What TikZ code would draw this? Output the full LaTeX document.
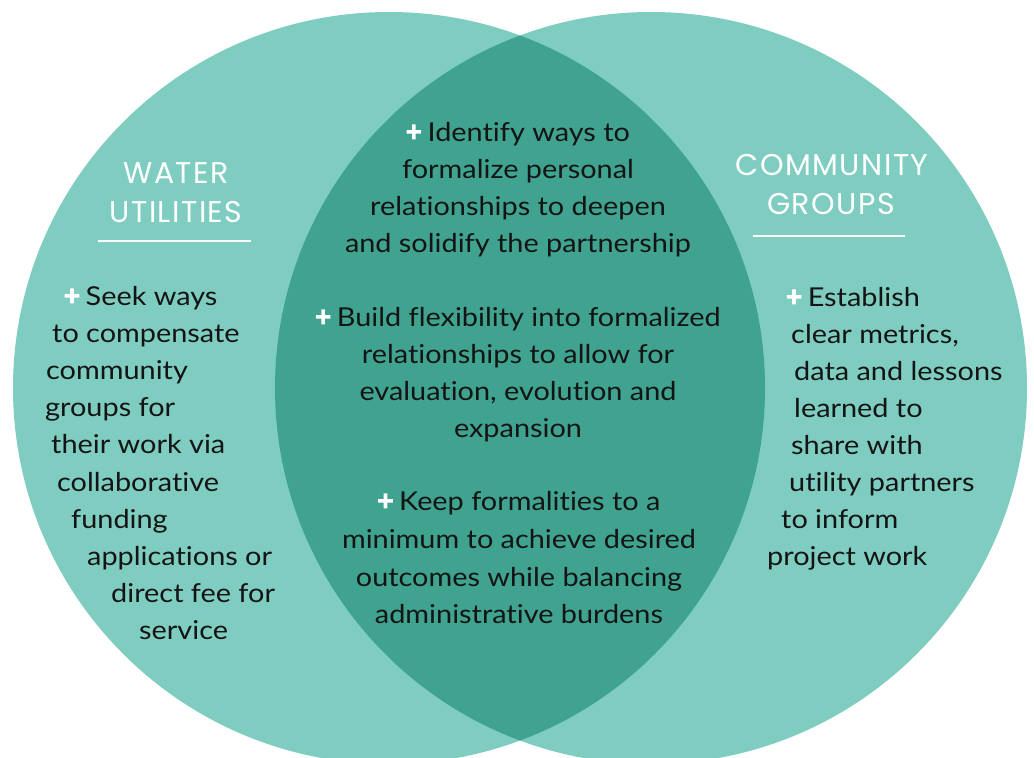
\documentclass[tikz,border=0pt]{standalone}
\usepackage{fontspec}
\setmainfont{Lato}[FakeStretch=1.11, Ligatures={NoCommon, NoRare}]
\newfontface\plusfont{Lato}[FakeBold=6]
\newfontfamily\headfont[LetterSpace=5]{Poppins}
\definecolor{lightteal}{HTML}{7FCDC1}
\definecolor{darkteal}{HTML}{3FA390}
\definecolor{ink}{HTML}{141414}
\newcommand{\plusmark}{{\plusfont\fontsize{27}{30}\selectfont\color{white}+}\hspace{-1.5pt}}
\begin{document}
\begin{tikzpicture}[x=1pt,y=-1pt,
  body/.style={anchor=base west, inner sep=0pt, font=\fontsize{26}{30}\selectfont, text=ink},
  mid/.style={anchor=base, inner sep=0pt, font=\fontsize{26}{30}\selectfont, text=ink},
  head/.style={anchor=base, inner sep=0pt, font=\headfont\fontsize{30}{36}\selectfont, text=white},
  rule/.style={draw=white, line width=1.6pt}]
\useasboundingbox (0,0) rectangle (1034,758);
\begin{scope}
  \clip (0,0) rectangle (1034,758);
  \fill[lightteal] (389,388) circle[radius=376];
  \fill[lightteal] (651,388) circle[radius=376];
  \begin{scope}
    \clip (389,388) circle[radius=376];
    \fill[darkteal] (651,388) circle[radius=376];
  \end{scope}
\end{scope}

% headings
\node[head] (wu1) at (176,183) {WATER};
\node[head] (wu2) at (176,222) {UTILITIES};
\coordinate (wuA) at (98,241);
\coordinate (wuB) at (251,241);
\draw[rule] (wuA) -- (wuB);
\node[head] (cg1) at (832,175) {COMMUNITY};
\node[head] (cg2) at (831,214) {GROUPS};
\coordinate (cgA) at (753,236);
\coordinate (cgB) at (905,236);
\draw[rule] (cgA) -- (cgB);

% left text
\node[body] (l1) at (64,305) {\plusmark{} Seek ways};
\node[body] (l2) at (52,342) {to compensate};
\node[body] (l3) at (46,379.5) {community};
\node[body] (l4) at (45,416.5) {groups for};
\node[body] (l5) at (51,453.5) {their work via};
\node[body] (l6) at (57,491) {collaborative};
\node[body] (l7) at (71,528) {funding};
\node[body] (l8) at (87,565) {applications or};
\node[body] (l9) at (111,602.5) {direct fee for};
\node[body] (l10) at (139,639.5) {service};

% right text
\node[body] (r1) at (786,306) {\plusmark{} Establish};
\node[body] (r2) at (791,343) {clear metrics,};
\node[body] (r3) at (794,380) {data and lessons};
\node[body] (r4) at (794,417) {learned to};
\node[body] (r5) at (791,454) {share with};
\node[body] (r6) at (789,491) {utility partners};
\node[body] (r7) at (781,528) {to inform};
\node[body] (r8) at (767,565) {project work};

% centre text
\node[mid] (c1) at (518,141) {\plusmark{} Identify ways to};
\node[mid] (c2) at (518,178) {formalize personal};
\node[mid] (c3) at (518,215) {relationships to deepen};
\node[mid] (c4) at (518,252) {and solidify the partnership};
\node[mid] (c5) at (518,326) {\plusmark{} Build flexibility into formalized};
\node[mid] (c6) at (518,363) {relationships to allow for};
\node[mid] (c7) at (518,400) {evaluation, evolution and};
\node[mid] (c8) at (518,437) {expansion};
\node[mid] (c9) at (519,510) {\plusmark{} Keep formalities to a};
\node[mid] (c10) at (519,548) {minimum to achieve desired};
\node[mid] (c11) at (519,586) {outcomes while balancing};
\node[mid] (c12) at (519,623) {administrative burdens};
\end{tikzpicture}
\end{document}
